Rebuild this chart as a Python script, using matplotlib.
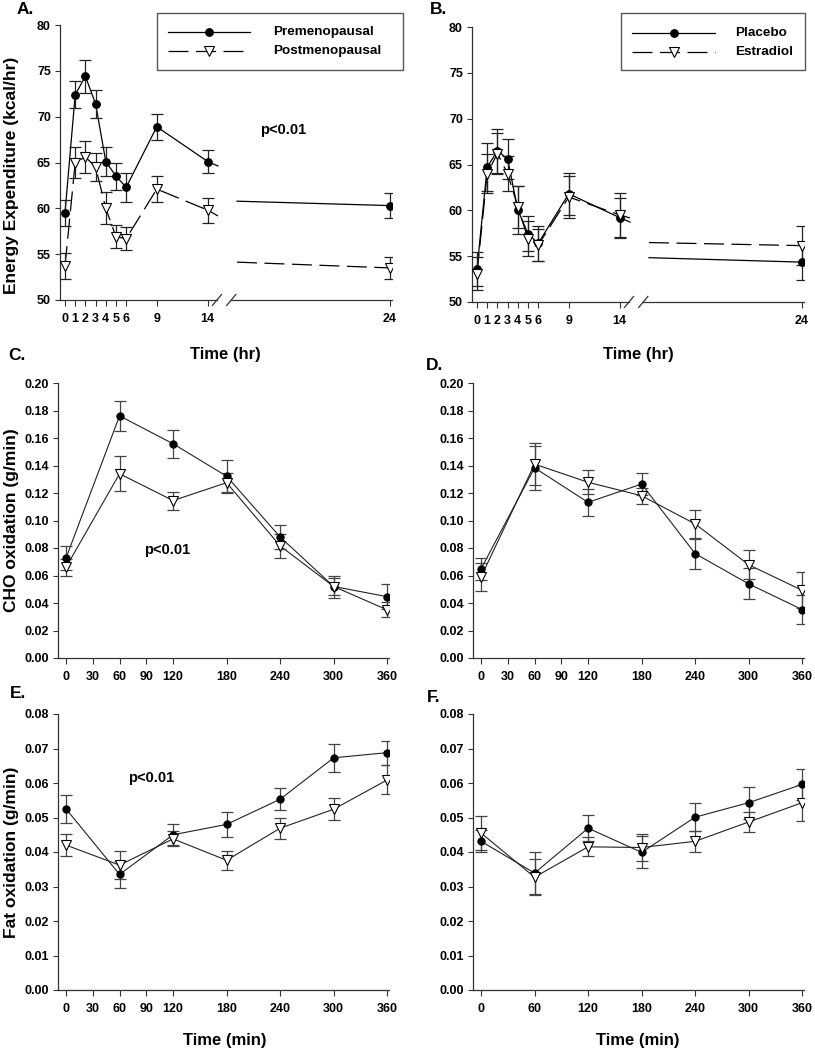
import numpy as np
import matplotlib.pyplot as plt
from matplotlib.lines import Line2D
from matplotlib.patches import Rectangle

plt.rcParams['font.family'] = ['Liberation Sans', 'DejaVu Sans']
plt.rcParams['font.weight'] = 'bold'

# ---- data ----
hours = np.array([0, 1, 2, 3, 4, 5, 6, 9, 14, 24])
hour_ticks = [0, 1, 2, 3, 4, 5, 6, 9, 14, 24]

# A: energy expenditure, pre vs post menopausal
pre_ee = [59.5, 72.4, 74.4, 71.4, 65.1, 63.5, 62.3, 68.9, 65.1, 60.3]
pre_ee_err = [1.4, 1.5, 1.8, 1.5, 1.6, 1.5, 1.6, 1.4, 1.25, 1.35]
post_ee = [53.7, 65.0, 65.6, 64.5, 60.0, 56.9, 56.7, 62.1, 59.8, 53.5]
post_ee_err = [1.4, 1.7, 1.7, 1.5, 1.75, 1.25, 1.25, 1.45, 1.35, 1.2]

# B: energy expenditure, placebo vs estradiol
plac_ee = [53.6, 64.7, 66.5, 65.6, 60.05, 57.45, 56.4, 61.8, 59.2, 54.35]
plac_ee_err = [1.9, 2.6, 2.4, 2.15, 2.6, 1.9, 1.9, 2.3, 2.2, 1.9]
estr_ee = [53.1, 64.0, 66.2, 64.0, 60.4, 56.9, 56.2, 61.45, 59.5, 56.15]
estr_ee_err = [1.8, 2.1, 2.2, 1.9, 2.3, 1.9, 1.75, 2.3, 2.4, 2.15]

minutes = np.array([0, 60, 120, 180, 240, 300, 360])

# C: CHO oxidation, pre vs post
pre_cho = [0.0727, 0.1761, 0.1558, 0.1322, 0.0880, 0.0520, 0.0446]
pre_cho_err = [0.009, 0.011, 0.010, 0.012, 0.0085, 0.008, 0.0093]
post_cho = [0.0660, 0.1340, 0.1145, 0.1275, 0.0815, 0.0520, 0.0350]
post_cho_err = [0.006, 0.0127, 0.0065, 0.007, 0.0085, 0.006, 0.0055]

# D: CHO oxidation, placebo vs estradiol
plac_cho = [0.0648, 0.1383, 0.1132, 0.1265, 0.0759, 0.0539, 0.0352]
plac_cho_err = [0.008, 0.016, 0.0098, 0.008, 0.011, 0.0112, 0.0105]
estr_cho = [0.0590, 0.1410, 0.1278, 0.1180, 0.0975, 0.0678, 0.0492]
estr_cho_err = [0.010, 0.0155, 0.0087, 0.0058, 0.010, 0.0105, 0.013]

# E: fat oxidation, pre vs post
pre_fat = [0.0525, 0.0335, 0.0450, 0.0480, 0.0553, 0.0673, 0.0688]
pre_fat_err = [0.004, 0.004, 0.003, 0.0036, 0.0032, 0.004, 0.0035]
post_fat = [0.0420, 0.0362, 0.0438, 0.0376, 0.0469, 0.0524, 0.0609]
post_fat_err = [0.0032, 0.004, 0.0022, 0.0028, 0.0031, 0.0032, 0.0042]

# F: fat oxidation, placebo vs estradiol
plac_fat = [0.0431, 0.0339, 0.0469, 0.0399, 0.0501, 0.0543, 0.0596]
plac_fat_err = [0.0032, 0.006, 0.0038, 0.0046, 0.004, 0.0046, 0.0045]
estr_fat = [0.0455, 0.0327, 0.0415, 0.0413, 0.0431, 0.0487, 0.0543]
estr_fat_err = [0.005, 0.0052, 0.0028, 0.0038, 0.003, 0.003, 0.0052]

min_ticks_full = [0, 30, 60, 90, 120, 180, 240, 300, 360]
min_ticks_short = [0, 60, 120, 180, 240, 300, 360]

W, H = 815, 1050
fig = plt.figure(figsize=(W / 100, H / 100), dpi=100)


def axes_px(left, top, width, height):
    return fig.add_axes([left / W, 1 - (top + height) / H, width / W, height / H])


def fx(x):
    return x / W


def fy(y):
    return 1 - y / H


def hpos(t):
    # broken time axis: 0-15 hr linear, then 23-24 hr stretched
    t = np.asarray(t, float)
    return np.where(t <= 15, t, 16.86 + (t - 23) * 15.0)


def style(ax):
    for s in ['top', 'right']:
        ax.spines[s].set_visible(False)
    for s in ['left', 'bottom']:
        ax.spines[s].set_color('#333333')
        ax.spines[s].set_linewidth(0.9)
    ax.tick_params(axis='y', direction='out', length=3.5, width=0.8,
                   color='#333333', labelsize=9, pad=3)
    ax.tick_params(axis='x', direction='out', length=4.5, width=0.8,
                   color='#333333', labelsize=9, pad=5)
    for lab in ax.get_xticklabels() + ax.get_yticklabels():
        lab.set_fontweight('bold')


series_style = [
    dict(marker='o', mfc='black', ms=5.5, dashes=None),
    dict(marker='v', mfc='white', ms=7, dashes=(16, 6)),
]


def hr_panel(ax, groups):
    for (vals, err), st in zip(groups, series_style):
        vals = np.asarray(vals, float)
        y15, y23 = np.interp([15, 23], [14, 24], vals[-2:])
        pre_x = np.append(hpos(hours[:-1]), 15)
        pre_y = np.append(vals[:-1], y15)
        post_x = hpos([23, 24])
        post_y = [y23, vals[-1]]
        for xs, ys in [(pre_x, pre_y), (post_x, post_y)]:
            ln, = ax.plot(xs, ys, color='black', lw=0.9, zorder=2)
            if st['dashes']:
                ln.set_dashes(st['dashes'])
        ax.errorbar(hpos(hours), vals, yerr=err, fmt='none', ecolor='#222222',
                    elinewidth=0.9, capsize=4.5, capthick=0.9, zorder=3)
        ax.plot(hpos(hours), vals, ls='none', marker=st['marker'], ms=st['ms'],
                mfc=st['mfc'], mec='black', mew=0.8, zorder=4)
    ax.set_ylim(50, 80)
    ax.set_xlim(-0.49, 32.06)
    ax.set_yticks(np.arange(50, 81, 5))
    ax.set_xticks(hpos(hour_ticks))
    ax.set_xticklabels([str(h) for h in hour_ticks])
    style(ax)
    # broken bottom axis
    ax.spines['bottom'].set_visible(False)
    tr = ax.get_xaxis_transform()
    ax.plot([-0.49, 14.9], [0, 0], transform=tr, color='#333333', lw=0.9, clip_on=False)
    ax.plot([16.3, 32.06], [0, 0], transform=tr, color='#333333', lw=0.9, clip_on=False)
    for c in (14.9, 16.3):
        ax.plot([c - 0.45, c + 0.45], [-0.02, 0.02], transform=tr,
                color='#333333', lw=0.9, clip_on=False)


def min_panel(ax, groups, ylim, ystep, xt):
    for (vals, err), st in zip(groups, series_style):
        ax.plot(minutes, vals, color='#222222', lw=0.8, zorder=2)
        ax.errorbar(minutes, vals, yerr=err, fmt='none', ecolor='#444444',
                    elinewidth=0.9, capsize=4, capthick=0.9, zorder=3)
        ax.plot(minutes, vals, ls='none', marker=st['marker'], ms=st['ms'] - 0.3,
                mfc=st['mfc'], mec='black', mew=0.8, zorder=4)
    ax.set_ylim(*ylim)
    ax.set_yticks(np.arange(ylim[0], ylim[1] + ystep / 2, ystep))
    ax.yaxis.set_major_formatter(plt.FormatStrFormatter('%.2f'))
    ax.set_xlim(-9, 362)
    ax.set_xticks(xt)
    style(ax)


axA = axes_px(60, 25, 332, 275)
hr_panel(axA, [(pre_ee, pre_ee_err), (post_ee, post_ee_err)])
axB = axes_px(472, 27, 332, 275)
hr_panel(axB, [(plac_ee, plac_ee_err), (estr_ee, estr_ee_err)])

axC = axes_px(58, 383, 331, 275)
min_panel(axC, [(pre_cho, pre_cho_err), (post_cho, post_cho_err)], (0, 0.20), 0.02, min_ticks_full)
axD = axes_px(473, 383, 331, 275)
min_panel(axD, [(plac_cho, plac_cho_err), (estr_cho, estr_cho_err)], (0, 0.20), 0.02, min_ticks_full)
axE = axes_px(58, 714, 331, 276)
min_panel(axE, [(pre_fat, pre_fat_err), (post_fat, post_fat_err)], (0, 0.08), 0.01, min_ticks_full)
axF = axes_px(473, 714, 331, 276)
min_panel(axF, [(plac_fat, plac_fat_err), (estr_fat, estr_fat_err)], (0, 0.08), 0.01, min_ticks_short)

# panel letters
for lab, x, y in [('A.', 17, 10), ('B.', 430, 10), ('C.', 8, 356),
                  ('D.', 426, 366), ('E.', 10, 693), ('F.', 427, 697)]:
    fig.text(fx(x), fy(y), lab, fontsize=12.5, fontweight='bold', va='center', ha='left')

# axis titles
fig.text(fx(12), fy(175), 'Energy Expenditure (kcal/hr)', rotation=90, fontsize=12.5,
         fontweight='bold', va='center', ha='center')
fig.text(fx(12), fy(520), 'CHO oxidation (g/min)', rotation=90, fontsize=12.5,
         fontweight='bold', va='center', ha='center')
fig.text(fx(12), fy(852), 'Fat oxidation (g/min)', rotation=90, fontsize=12.5,
         fontweight='bold', va='center', ha='center')
for x, y, t in [(225, 354, 'Time (hr)'), (638, 354, 'Time (hr)'),
                (225, 1040, 'Time (min)'), (638, 1040, 'Time (min)')]:
    fig.text(fx(x), fy(y), t, fontsize=12, fontweight='bold', va='center', ha='center')

# p values
for x, y in [(283, 130), (167, 550), (151, 778)]:
    fig.text(fx(x), fy(y), 'p<0.01', fontsize=10.5, fontweight='bold', va='center', ha='center')


# legends
def legend_box(x0, y0, x1, y1, lx0, lx1, tx, labels):
    fig.add_artist(Rectangle((fx(x0), fy(y1)), (x1 - x0) / W, (y1 - y0) / H,
                             transform=fig.transFigure, fill=False,
                             edgecolor='#555555', lw=1.0))
    for (lab, y), st in zip(labels, series_style):
        ln = Line2D([fx(lx0), fx(lx1)], [fy(y), fy(y)], transform=fig.transFigure,
                    color='black', lw=0.9)
        if st['dashes']:
            ln.set_dashes(st['dashes'])
        fig.add_artist(ln)
        fig.add_artist(Line2D([fx((lx0 + lx1) / 2)], [fy(y)], transform=fig.transFigure,
                              ls='none', marker=st['marker'], ms=st['ms'],
                              mfc=st['mfc'], mec='black', mew=0.8))
        fig.text(fx(tx), fy(y), lab, fontsize=9.7, fontweight='bold', va='center', ha='left')


legend_box(157, 13, 403, 70, 168, 250, 273, [('Premenopausal', 32), ('Postmenopausal', 51)])
legend_box(621, 13, 805, 70, 632, 715, 735, [('Placebo', 33), ('Estradiol', 52)])

fig.savefig('out.png', dpi=100)
